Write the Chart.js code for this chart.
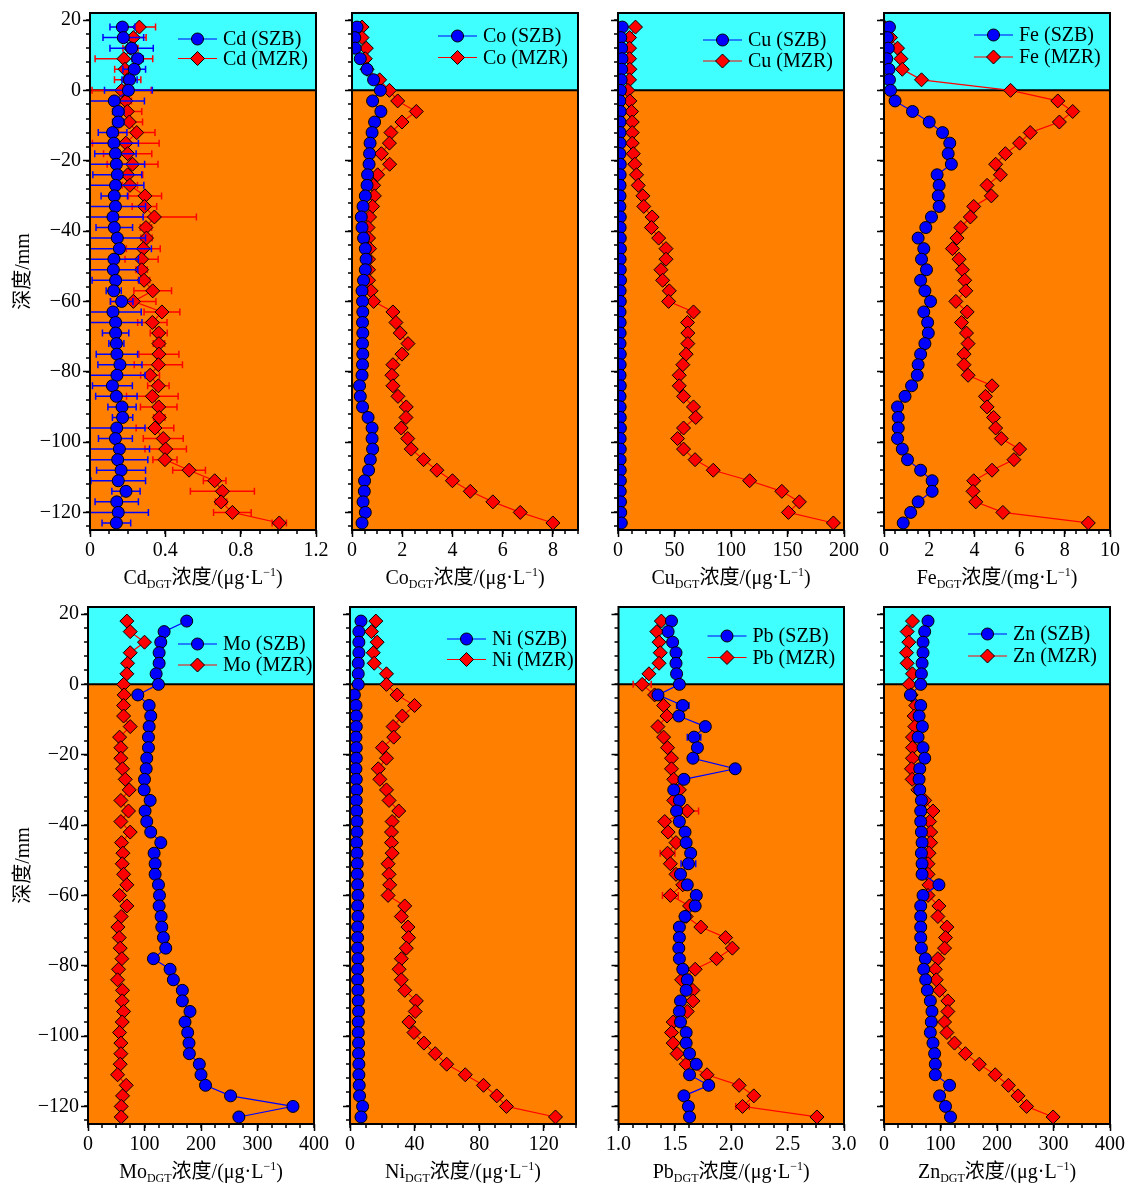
<!DOCTYPE html>
<html>
<head>
<meta charset="utf-8">
<script src="https://cdn.jsdelivr.net/npm/chart.js@4.4.1/dist/chart.umd.min.js"></script>
<style>
  html, body { margin: 0; padding: 0; background: #fff; }
  #wrap { position: relative; width: 1128px; height: 1184px; overflow: hidden; }
  canvas { position: absolute; }
</style>
</head>
<body>
<div id="wrap"></div>
<script>
// ===============================
// 数据：深度 (mm) 与各元素 DGT 浓度
// ===============================
const depth = [18, 15, 12, 9, 6, 3, 0, -3, -6, -9, -12, -15, -18, -21, -24, -27, -30, -33, -36, -39,
  -42, -45, -48, -51, -54, -57, -60, -63, -66, -69, -72, -75, -78, -81, -84, -87, -90, -93, -96, -99,
  -102, -105, -108, -111, -114, -117, -120, -123];

const depthTicks = [-120, -100, -80, -60, -40, -20, 0, 20];
const depthTickLabels = ["−120", "−100", "−80", "−60", "−40", "−20", "0", "20"];

// Cd
const cdSZB = [0.172, 0.177, 0.221, 0.253, 0.235, 0.21, 0.204, 0.129, 0.15, 0.15, 0.12, 0.127, 0.135, 0.14, 0.145, 0.136, 0.129, 0.135, 0.122, 0.129,
  0.145, 0.156, 0.127, 0.124, 0.136, 0.126, 0.168, 0.122, 0.136, 0.136, 0.14, 0.143, 0.159, 0.143, 0.119, 0.14, 0.17, 0.173, 0.142, 0.135,
  0.156, 0.147, 0.165, 0.15, 0.191, 0.142, 0.15, 0.14];
const cdSZBErr = [0.066, 0.108, 0.115, 0.03, 0.06, 0.04, 0.127, 0.16, 0.03, 0.03, 0.076, 0.13, 0.11, 0.15, 0.13, 0.15, 0.07, 0.16, 0.16, 0.097,
  0.15, 0.17, 0.13, 0.13, 0.125, 0.04, 0.06, 0.15, 0.14, 0.07, 0.04, 0.11, 0.117, 0.15, 0.106, 0.11, 0.075, 0.054, 0.15, 0.09,
  0.16, 0.16, 0.13, 0.145, 0.075, 0.115, 0.16, 0.076];
const cdMZR = [0.262, 0.23, 0.215, 0.18, 0.186, 0.2, 0.168, 0.19, 0.198, 0.209, 0.248, 0.19, 0.2, 0.226, 0.2, 0.212, 0.292, 0.289, 0.342, 0.297,
  0.3, 0.283, 0.274, 0.274, 0.287, 0.333, 0.23, 0.382, 0.331, 0.365, 0.366, 0.366, 0.363, 0.319, 0.363, 0.331, 0.365, 0.368, 0.345, 0.389,
  0.402, 0.398, 0.526, 0.662, 0.703, 0.696, 0.756, 1.005];
const cdMZRErr = [0.086, 0.068, 0.04, 0.153, 0.055, 0.07, 0.157, 0.03, 0.077, 0.07, 0.097, 0.177, 0.128, 0.135, 0.08, 0.04, 0.088, 0.065, 0.223, 0.03,
  0.03, 0.09, 0.088, 0.03, 0.03, 0.1, 0.12, 0.095, 0.078, 0.045, 0.03, 0.106, 0.128, 0.05, 0.057, 0.137, 0.097, 0.03, 0.1, 0.106,
  0.11, 0.064, 0.087, 0.06, 0.17, 0.03, 0.1, 0.038];
const cdTicks = [0, 0.4, 0.8, 1.2];
const cdTickLabels = ["0", "0.4", "0.8", "1.2"];

// Co
const coSZB = [0.2, 0.11, 0.13, 0.33, 0.6, 0.86, 1.13, 0.82, 1.15, 0.9, 0.8, 0.72, 0.7, 0.68, 0.62, 0.6, 0.53, 0.44, 0.37, 0.4,
  0.46, 0.53, 0.56, 0.53, 0.46, 0.4, 0.42, 0.43, 0.42, 0.43, 0.42, 0.43, 0.42, 0.4, 0.3, 0.33, 0.42, 0.64, 0.8, 0.8,
  0.82, 0.73, 0.66, 0.5, 0.49, 0.44, 0.53, 0.4];
const coMZR = [0.4, 0.4, 0.57, 0.53, 0.6, 1.1, 1.49, 1.82, 2.56, 1.99, 1.55, 1.49, 1.17, 1.5, 1.02, 0.86, 0.89, 0.82, 0.7, 0.64,
  0.66, 0.7, 0.66, 0.66, 0.66, 0.76, 0.86, 1.63, 1.75, 1.92, 2.23, 1.99, 1.63, 1.59, 1.63, 1.83, 2.16, 2.15, 1.96, 2.22,
  2.36, 2.85, 3.38, 4.0, 4.71, 5.61, 6.7, 8.0];
const coTicks = [0, 2, 4, 6, 8];
const coTickLabels = ["0", "2", "4", "6", "8"];

// Cu
const cuSZB = [3.8, 2.5, 3.2, 3.5, 3.2, 2.8, 2.2, 1.6, 2.0, 1.8, 1.8, 1.9, 1.7, 2.0, 1.9, 1.8, 1.8, 1.7, 2.0, 1.9,
  2.0, 2.1, 1.9, 2.0, 2.2, 1.9, 2.0, 1.8, 1.9, 1.9, 1.8, 2.0, 1.9, 1.8, 2.0, 1.8, 1.9, 2.0, 2.1, 1.9,
  2.0, 1.9, 2.0, 2.1, 2.0, 2.2, 2.4, 2.9];
const cuMZR = [15.5, 10.2, 10.2, 10.2, 10.5, 10.2, 8.8, 10.5, 12, 12.6, 12.6, 12.6, 13.5, 14.9, 16.4, 17.9, 22, 22.8, 30.2, 29.6,
  36, 42.5, 42.5, 38, 39.5, 45.4, 44.8, 66.8, 61.5, 61.8, 61.8, 60.3, 57.4, 54.2, 54.2, 58, 66.8, 68.8, 58, 52.7,
  58, 68.2, 84.3, 116.5, 145, 160.5, 150.8, 190.6];
const cuTicks = [0, 50, 100, 150, 200];
const cuTickLabels = ["0", "50", "100", "150", "200"];

// Fe
const feSZB = [0.24, 0.15, 0.19, 0.12, 0.22, 0.24, 0.29, 0.49, 1.26, 2.0, 2.59, 2.91, 2.84, 2.98, 2.35, 2.44, 2.4, 2.44, 2.1, 1.85,
  1.51, 1.76, 1.66, 1.88, 1.62, 1.81, 2.06, 1.76, 1.93, 1.96, 1.81, 1.62, 1.51, 1.47, 1.22, 0.93, 0.6, 0.63, 0.63, 0.6,
  0.81, 1.04, 1.62, 2.13, 2.13, 1.51, 1.18, 0.85];
const feMZR = [0.02, 0.29, 0.6, 0.75, 0.81, 1.66, 5.6, 7.69, 8.35, 7.76, 6.47, 6.0, 5.37, 4.94, 5.15, 4.56, 4.75, 3.97, 3.82, 3.4,
  3.23, 3.03, 3.32, 3.47, 3.57, 3.62, 3.18, 3.68, 3.43, 3.65, 3.72, 3.54, 3.54, 3.72, 4.78, 4.49, 4.56, 4.85, 4.94, 5.19,
  6.0, 5.75, 4.78, 3.97, 3.94, 4.06, 5.26, 9.04];
const feTicks = [0, 2, 4, 6, 8, 10];
const feTickLabels = ["0", "2", "4", "6", "8", "10"];

// Mo
const moSZB = [174.7, 134.7, 128.8, 125.9, 125.9, 120.6, 124.7, 88.2, 108.2, 111.1, 108.2, 107, 107, 104, 103, 100, 99.4, 110, 101, 104,
  111, 128.8, 117, 118.8, 118.8, 124.7, 126.5, 125.9, 129.4, 130.6, 133.5, 137.6, 115.8, 145.3, 151.1, 167, 167, 180.5, 171.7, 176.4,
  178.8, 179.4, 197, 200, 208, 252.3, 362.8, 267];
const moMZR = [68.8, 74.7, 100, 74.7, 70, 68.8, 63, 64, 63, 63, 74.7, 55.9, 58.2, 58.2, 61.2, 65.9, 73, 58.2, 71.7, 58.2,
  74.7, 59.4, 61.8, 60.6, 63, 68.8, 55.9, 68.8, 58.8, 52.9, 55.3, 57, 60, 54, 52.3, 61.2, 60.6, 63, 60.6, 55.9,
  58.2, 58.2, 57, 52.3, 67.6, 61.2, 58.8, 58.8];
const moTicks = [0, 100, 200, 300, 400];
const moTickLabels = ["0", "100", "200", "300", "400"];

// Ni
const niSZB = [6.8, 5.5, 5.5, 5.5, 5.1, 5.1, 5.1, 2.7, 3.7, 3.9, 3.9, 3.7, 3.9, 3.9, 3.7, 3.9, 4.1, 3.9, 4.1, 4.3,
  4.3, 4.1, 4.3, 4.5, 4.5, 4.7, 4.9, 4.7, 4.9, 4.7, 4.7, 4.7, 4.9, 4.7, 4.7, 4.9, 5.1, 5.3, 5.1, 5.1,
  5.3, 5.3, 5.5, 5.5, 5.7, 5.9, 7.8, 6.8];
const niMZR = [16, 13.3, 16.8, 14.4, 15, 22.6, 22.6, 29.2, 40, 32.4, 26.7, 27.1, 20.1, 22.6, 17.5, 18.5, 22.6, 24.2, 30.2, 26.1,
  25.7, 25.7, 26.1, 23.6, 24.2, 24.6, 23.6, 33.9, 31.8, 35.9, 36.3, 34.9, 31.8, 30.4, 31.8, 33.9, 41.1, 40.4, 36.5, 39.6,
  45.8, 52.8, 59.9, 71.4, 82.7, 90.9, 96.9, 127.3];
const niTicks = [0, 40, 80, 120];
const niTickLabels = ["0", "40", "80", "120"];

// Pb
const pbSZB = [1.47, 1.44, 1.48, 1.51, 1.51, 1.515, 1.54, 1.35, 1.57, 1.535, 1.77, 1.67, 1.70, 1.66, 2.035, 1.58, 1.49, 1.54, 1.515, 1.54,
  1.59, 1.6, 1.64, 1.62, 1.55, 1.61, 1.69, 1.68, 1.59, 1.54, 1.54, 1.535, 1.54, 1.57, 1.61, 1.6, 1.55, 1.54, 1.55, 1.6,
  1.6, 1.63, 1.69, 1.63, 1.8, 1.58, 1.62, 1.63];
const pbSZBErr = [0, 0, 0, 0, 0, 0, 0, 0, 0.055, 0, 0, 0.06, 0, 0, 0, 0, 0, 0, 0, 0,
  0, 0, 0, 0.065, 0, 0, 0, 0, 0, 0, 0, 0, 0, 0, 0, 0, 0, 0, 0, 0,
  0, 0, 0, 0, 0, 0, 0, 0];
const pbMZR = [1.38, 1.34, 1.36, 1.37, 1.36, 1.27, 1.21, 1.32, 1.4, 1.43, 1.35, 1.40, 1.435, 1.47, 1.47, 1.49, 1.54, 1.49, 1.61, 1.41,
  1.44, 1.51, 1.435, 1.46, 1.51, 1.57, 1.46, 1.63, 1.6, 1.73, 1.95, 2.01, 1.87, 1.68, 1.56, 1.66, 1.66, 1.61, 1.485, 1.47,
  1.485, 1.52, 1.6, 1.785, 2.07, 2.2, 2.1, 2.76];
const pbMZRErr = [0, 0, 0, 0, 0, 0, 0.08, 0, 0, 0, 0, 0, 0, 0, 0, 0, 0, 0, 0.1, 0,
  0, 0, 0.065, 0, 0, 0, 0.07, 0, 0, 0, 0, 0, 0, 0, 0, 0, 0, 0, 0, 0,
  0, 0, 0, 0, 0, 0, 0.06, 0];
const pbTicks = [1.0, 1.5, 2.0, 2.5, 3.0];
const pbTickLabels = ["1.0", "1.5", "2.0", "2.5", "3.0"];

// Zn
const znSZB = [77.9, 72, 69.1, 69.1, 67.4, 66.2, 65, 46.9, 65, 62.1, 67.9, 60.3, 69.1, 72, 63.3, 62.1, 63.3, 66.2, 65, 65,
  66.2, 67.4, 66.2, 67.4, 67.4, 97.2, 69.1, 65, 65, 65, 65, 66.2, 73.2, 70.3, 73.8, 76.7, 82, 84.9, 83.7, 82,
  86.7, 89.6, 90.8, 90.8, 116, 98.4, 108.9, 117.7];
const znMZR = [50.4, 41, 43.9, 39.8, 41, 50.4, 44.5, 48, 56.2, 53.3, 54.5, 50.4, 50.4, 50.4, 48.6, 49.8, 60, 72, 86.7, 80.8,
  82.6, 82.6, 79.7, 77.9, 77.9, 79.7, 77.9, 97.2, 95.4, 111.3, 108.9, 107.2, 95.4, 90.8, 92.5, 98.4, 113, 113, 107.2, 111.3,
  124.8, 144.1, 168.7, 196.8, 220.2, 237.2, 252.4, 299.3];
const znTicks = [0, 100, 200, 300, 400];
const znTickLabels = ["0", "100", "200", "300", "400"];

// ===============================
// 版面与样式
// ===============================
const FAMILY = '"Liberation Serif", "Noto Sans CJK SC", serif';
const CYAN = "#40FFFF";
const ORANGE = "#FF8000";
const BLUE = "#0000FF";
const RED = "#FF0000";

const PLOT_W = 226, PLOT_H = 517;
const ROW_TOP = [13, 607];
const COL_LEFT = [[90, 352, 618, 884], [88, 350, 618, 884]];
const PAD_T = 20, PAD_R = 26, PAD_B = 80;
const TICK_MAJ = 7, TICK_MIN = 4;

// leg: [线段起点 x 偏移, 第一行 y 偏移, 行距]
const panels = [
  { el: "Cd", unit: "μg", szb: cdSZB, mzr: cdMZR, szbErr: cdSZBErr, mzrErr: cdMZRErr, min: 0, max: 1.2, ticks: cdTicks, labels: cdTickLabels, minor: 0.1, leg: [88, 26, 19.5] },
  { el: "Co", unit: "μg", szb: coSZB, mzr: coMZR, min: 0, max: 9, ticks: coTicks, labels: coTickLabels, minor: 0.5, leg: [86, 23, 21.5] },
  { el: "Cu", unit: "μg", szb: cuSZB, mzr: cuMZR, min: 0, max: 200, ticks: cuTicks, labels: cuTickLabels, minor: 12.5, leg: [85, 27, 21] },
  { el: "Fe", unit: "mg", szb: feSZB, mzr: feMZR, min: 0, max: 10, ticks: feTicks, labels: feTickLabels, minor: 0.5, leg: [90, 22, 22] },
  { el: "Mo", unit: "μg", szb: moSZB, mzr: moMZR, min: 0, max: 400, ticks: moTicks, labels: moTickLabels, minor: 25, leg: [90, 37, 21] },
  { el: "Ni", unit: "μg", szb: niSZB, mzr: niMZR, min: 0, max: 140, ticks: niTicks, labels: niTickLabels, minor: 10, leg: [97, 32, 20.5] },
  { el: "Pb", unit: "μg", szb: pbSZB, mzr: pbMZR, szbErr: pbSZBErr, mzrErr: pbMZRErr, min: 1, max: 3, ticks: pbTicks, labels: pbTickLabels, minor: 0.125, leg: [89, 29, 21.5] },
  { el: "Zn", unit: "μg", szb: znSZB, mzr: znMZR, min: 0, max: 400, ticks: znTicks, labels: znTickLabels, minor: 25, leg: [84, 27, 22] }
];

Chart.defaults.font.family = FAMILY;
Chart.defaults.font.size = 20;
Chart.defaults.color = "#000";

// ===============================
// 文字：带上下标的标题
// ===============================
function drawRich(ctx, parts, cx, baseline) {
  let total = 0;
  parts.forEach(p => {
    ctx.font = p.size + "px " + FAMILY;
    p.w = ctx.measureText(p.t).width;
    total += p.w;
  });
  let x = cx - total / 2;
  ctx.textAlign = "left";
  ctx.textBaseline = "alphabetic";
  parts.forEach(p => {
    ctx.font = p.size + "px " + FAMILY;
    ctx.fillText(p.t, x, baseline + (p.dy || 0));
    x += p.w;
  });
}

function markerOpts(style, radius) {
  return { pointStyle: style, radius: radius, borderWidth: 1, rotation: 0 };
}

// ===============================
// 插件：背景、误差棒、边框、次刻度、图例、标题
// ===============================
const deco = {
  id: "deco",
  beforeDatasetsDraw(chart) {
    const { ctx, chartArea: a } = chart;
    const y0 = chart.scales.y.getPixelForValue(0);
    ctx.save();
    ctx.fillStyle = CYAN;
    ctx.fillRect(a.left, a.top, a.width, y0 - a.top);
    ctx.fillStyle = ORANGE;
    ctx.fillRect(a.left, y0, a.width, a.bottom - y0);
    ctx.strokeStyle = "#000";
    ctx.lineWidth = 2;
    ctx.beginPath();
    ctx.moveTo(a.left, y0);
    ctx.lineTo(a.right, y0);
    ctx.stroke();
    ctx.restore();
  },
  beforeDatasetDraw(chart, args) {
    const ds = chart.data.datasets[args.index];
    if (!ds.err) return;
    const { ctx, chartArea: a } = chart;
    const xs = chart.scales.x, ys = chart.scales.y;
    ctx.save();
    ctx.beginPath();
    ctx.rect(a.left, a.top, a.width, a.height);
    ctx.clip();
    ctx.strokeStyle = ds.borderColor;
    ctx.lineWidth = 1.5;
    ds.data.forEach((p, i) => {
      const e = ds.err[i];
      if (!e) return;
      const x1 = xs.getPixelForValue(p.x - e);
      const x2 = xs.getPixelForValue(p.x + e);
      const yp = ys.getPixelForValue(p.y);
      ctx.beginPath();
      ctx.moveTo(x1, yp); ctx.lineTo(x2, yp);
      ctx.moveTo(x1, yp - 3.5); ctx.lineTo(x1, yp + 3.5);
      ctx.moveTo(x2, yp - 3.5); ctx.lineTo(x2, yp + 3.5);
      ctx.stroke();
    });
    ctx.restore();
  },
  afterDatasetsDraw(chart) {
    const { ctx, chartArea: a } = chart;
    ctx.save();
    ctx.strokeStyle = "#000";
    ctx.lineWidth = 2;
    ctx.strokeRect(a.left, a.top, a.width, a.height);
    ctx.restore();
  },
  afterDraw(chart, args, o) {
    const { ctx, chartArea: a } = chart;
    const xs = chart.scales.x, ys = chart.scales.y;
    ctx.save();
    // 次刻度
    ctx.strokeStyle = "#000";
    ctx.lineWidth = 1.5;
    ctx.beginPath();
    for (let v = o.xMin; v <= o.xMax + 1e-9; v += o.xMinor) {
      const px = Math.round(xs.getPixelForValue(v));
      ctx.moveTo(px, a.bottom); ctx.lineTo(px, a.bottom + TICK_MIN);
    }
    for (let v = -124; v <= 20; v += 4) {
      const py = Math.round(ys.getPixelForValue(v));
      ctx.moveTo(a.left - TICK_MIN, py); ctx.lineTo(a.left, py);
    }
    ctx.stroke();

    // 图例
    ctx.font = "20px " + FAMILY;
    ctx.textAlign = "left";
    ctx.textBaseline = "middle";
    chart.data.datasets.forEach((ds, k) => {
      const lx = a.left + o.leg[0];
      const ly = a.top + o.leg[1] + k * o.leg[2];
      ctx.strokeStyle = ds.borderColor;
      ctx.lineWidth = 1.2;
      ctx.beginPath();
      ctx.moveTo(lx, ly); ctx.lineTo(lx + 39, ly);
      ctx.stroke();
      ctx.fillStyle = ds.pointBackgroundColor;
      ctx.strokeStyle = "#000";
      ctx.lineWidth = 1;
      Chart.helpers.drawPoint(ctx, markerOpts(ds.pointStyle, ds.pointRadius), lx + 19.5, ly);
      ctx.fillStyle = "#000";
      ctx.fillText(ds.label, lx + 45, ly + 1);
    });

    // 横轴标题
    ctx.fillStyle = "#000";
    drawRich(ctx, [
      { t: o.el, size: 20 },
      { t: "DGT", size: 12, dy: 4 },
      { t: "浓度/(" + o.unit + "·L", size: 20 },
      { t: "−1", size: 12, dy: -8 },
      { t: ")", size: 20 }
    ], (a.left + a.right) / 2, a.bottom + 54);

    // 纵轴标题
    if (o.yTitle) {
      ctx.save();
      ctx.translate(22, (a.top + a.bottom) / 2);
      ctx.rotate(-Math.PI / 2);
      drawRich(ctx, [{ t: "深度/mm", size: 20 }], 0, 7);
      ctx.restore();
    }
    ctx.restore();
  }
};

// ===============================
// 建立 8 个子图
// ===============================
const wrap = document.getElementById("wrap");

panels.forEach((p, idx) => {
  const row = Math.floor(idx / 4), col = idx % 4;
  const left = COL_LEFT[row][col];
  const padL = col === 0 ? left : 14;
  const w = padL + PLOT_W + PAD_R;
  const h = PAD_T + PLOT_H + PAD_B;

  const canvas = document.createElement("canvas");
  canvas.width = w;
  canvas.height = h;
  canvas.style.width = w + "px";
  canvas.style.height = h + "px";
  canvas.style.left = (left - padL) + "px";
  canvas.style.top = (ROW_TOP[row] - PAD_T) + "px";
  wrap.appendChild(canvas);

  const toPts = arr => arr.map((v, i) => ({ x: v, y: depth[i] }));

  new Chart(canvas, {
    type: "scatter",
    data: {
      datasets: [
        {
          label: p.el + " (SZB)",
          data: toPts(p.szb),
          err: p.szbErr,
          showLine: true,
          borderColor: BLUE,
          borderWidth: 1.2,
          pointStyle: "circle",
          pointRadius: 6,
          pointBackgroundColor: BLUE,
          pointBorderColor: "#000",
          pointBorderWidth: 1
        },
        {
          label: p.el + " (MZR)",
          data: toPts(p.mzr),
          err: p.mzrErr,
          showLine: true,
          borderColor: RED,
          borderWidth: 1.2,
          pointStyle: "rectRot",
          pointRadius: 7,
          pointBackgroundColor: RED,
          pointBorderColor: "#000",
          pointBorderWidth: 1
        }
      ]
    },
    options: {
      responsive: false,
      animation: false,
      events: [],
      layout: { padding: { top: PAD_T, right: PAD_R, left: 0, bottom: 0 } },
      plugins: {
        legend: { display: false },
        tooltip: { enabled: false },
        deco: { el: p.el, unit: p.unit, leg: p.leg, xMin: p.min, xMax: p.max, xMinor: p.minor, yTitle: col === 0 }
      },
      scales: {
        x: {
          type: "linear",
          min: p.min,
          max: p.max,
          afterBuildTicks: s => { s.ticks = p.ticks.map(v => ({ value: v })); },
          afterFit: s => { s.height = PAD_B; },
          ticks: {
            autoSkip: false,
            maxRotation: 0,
            padding: 2,
            color: "#000",
            font: { size: 20, family: FAMILY },
            callback: (v, i) => p.labels[i]
          },
          grid: { drawOnChartArea: false, drawTicks: true, tickLength: TICK_MAJ, tickWidth: 1.5, tickColor: "#000" },
          border: { display: false }
        },
        y: {
          type: "linear",
          min: -125,
          max: 22,
          afterBuildTicks: s => { s.ticks = depthTicks.map(v => ({ value: v })); },
          afterFit: s => { s.width = padL; },
          ticks: {
            display: col === 0,
            autoSkip: false,
            padding: 2,
            color: "#000",
            font: { size: 20, family: FAMILY },
            callback: (v, i) => depthTickLabels[i]
          },
          grid: { drawOnChartArea: false, drawTicks: true, tickLength: TICK_MAJ, tickWidth: 1.5, tickColor: "#000" },
          border: { display: false }
        }
      }
    },
    plugins: [deco]
  });
});
</script>
</body>
</html>
